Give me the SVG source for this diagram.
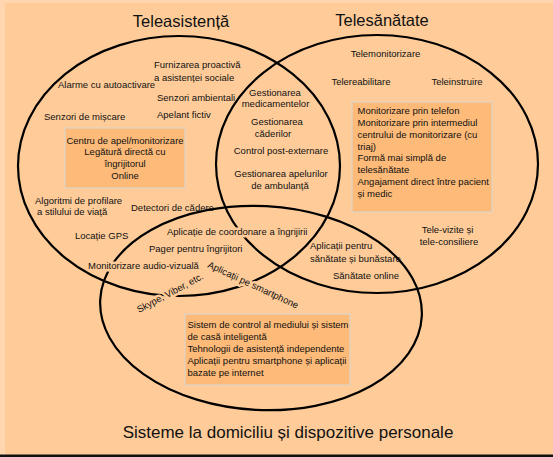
<svg xmlns="http://www.w3.org/2000/svg" width="553" height="457" viewBox="0 0 553 457">
<style>
.ell{fill:none;stroke:#000;stroke-width:2.2}
.t{font-family:"Liberation Sans",Arial,sans-serif;font-size:9.5px;fill:#111}
.c{text-anchor:middle}
.title{font-family:"Liberation Sans",Arial,sans-serif;font-size:16.5px;fill:#111;text-anchor:middle}
.halo{stroke:#FFCC99;stroke-width:5;paint-order:stroke;stroke-linejoin:round}
.box{fill:#FDBA78;stroke:#DCD4C6;stroke-width:1.2}
</style>
<rect width="553" height="457" fill="#FFCC99"/>
<rect x="0" y="0" width="553" height="3" fill="#FFD6AE"/>
<rect x="0" y="0" width="5" height="457" fill="#FFD6AE"/>
<rect x="0" y="454.5" width="553" height="2.5" fill="#111"/>
<g id="connectors"></g>
<g id="set-teleasistenta">
<ellipse class="ell" cx="179" cy="166" rx="161" ry="130"/>
<text class="title" x="181" y="27">Teleasistență</text>
</g>
<g id="set-telesanatate">
<ellipse class="ell" cx="377" cy="164" rx="161" ry="129"/>
<text class="title" x="382" y="26">Telesănătate</text>
</g>
<g id="set-domiciliu">
<ellipse class="ell" cx="261" cy="308" rx="161" ry="102" transform="rotate(3 261 308)"/>
<text class="title" x="288" y="438" style="font-size:17px">Sisteme la domiciliu și dispozitive personale</text>
</g>
<g id="box-teleasistenta">
<rect class="box" x="65" y="128" width="120" height="60"/>
<text class="t c" x="125" y="143.5">Centru de apel/monitorizare</text>
<text class="t c" x="125" y="155.2">Legătură directă cu</text>
<text class="t c" x="125" y="167">îngrijitorul</text>
<text class="t c" x="125" y="178.5">Online</text>
</g>
<g id="box-telesanatate">
<rect class="box" x="352" y="102" width="140" height="110"/>
<text class="t" x="357.5" y="114">Monitorizare prin telefon</text>
<text class="t" x="357.5" y="125.9">Monitorizare prin intermediul</text>
<text class="t" x="357.5" y="137.7">centrului de monitorizare (cu</text>
<text class="t" x="357.5" y="149.6">triaj)</text>
<text class="t" x="357.5" y="161.4">Formă mai simplă de</text>
<text class="t" x="357.5" y="173.3">telesănătate</text>
<text class="t" x="357.5" y="185.1">Angajament direct între pacient</text>
<text class="t" x="357.5" y="197">și medic</text>
</g>
<g id="box-domiciliu">
<rect class="box" x="185" y="314" width="165" height="71"/>
<text class="t" x="187.5" y="327.5">Sistem de control al mediului și sistem</text>
<text class="t" x="187.5" y="339.5">de casă inteligentă</text>
<text class="t" x="187.5" y="351.5">Tehnologii de asistență independente</text>
<text class="t" x="187.5" y="363.5">Aplicații pentru smartphone și aplicații</text>
<text class="t" x="187.5" y="375.5">bazate pe internet</text>
</g>
<g id="items-teleasistenta">
<text class="t" x="154" y="68">Furnizarea proactivă</text>
<text class="t" x="154" y="81">a asistenței sociale</text>
<text class="t" x="58" y="88">Alarme cu autoactivare</text>
<text class="t" x="157" y="101">Senzori ambientali</text>
<text class="t" x="44" y="120">Senzori de mișcare</text>
<text class="t" x="157" y="118">Apelant fictiv</text>
<text class="t" x="35" y="203.5">Algoritmi de profilare</text>
<text class="t" x="37" y="214.5">a stilului de viață</text>
<text class="t" x="131" y="211">Detectori de cădere</text>
<text class="t" x="75" y="238.5">Locație GPS</text>
</g>
<g id="items-intersectie-asistenta-sanatate">
<text class="t c" x="275" y="95.5">Gestionarea</text>
<text class="t c" x="275.5" y="106.5">medicamentelor</text>
<text class="t c" x="277" y="125">Gestionarea</text>
<text class="t c" x="273" y="137">căderilor</text>
<text class="t c" x="281" y="154">Control post-externare</text>
<text class="t c" x="281" y="177">Gestionarea apelurilor</text>
<text class="t c" x="280" y="188.5">de ambulanță</text>
</g>
<g id="items-telesanatate">
<text class="t c" x="385.5" y="57">Telemonitorizare</text>
<text class="t c" x="361" y="84.5">Telereabilitare</text>
<text class="t c" x="457" y="84.5">Teleinstruire</text>
<text class="t c" x="447.5" y="232.5">Tele-vizite și</text>
<text class="t c" x="449" y="245">tele-consiliere</text>
</g>
<g id="items-intersectii-domiciliu">
<text class="t halo" x="167" y="235">Aplicație de coordonare a îngrijirii</text>
<text class="t" x="149" y="251.5">Pager pentru îngrijitori</text>
<text class="t halo" x="88" y="268.5">Monitorizare audio-vizuală</text>
<text class="t" x="310" y="249">Aplicații pentru</text>
<text class="t" x="310" y="262">sănătate și bunăstare</text>
<text class="t" x="333" y="278.5">Sănătate online</text>
<text class="t halo" transform="translate(207,267) rotate(25)">Aplicații pe smartphone</text>
<text class="t halo" transform="translate(139,313) rotate(-28)">Skype, Viber, etc.</text>
</g>
</svg>
